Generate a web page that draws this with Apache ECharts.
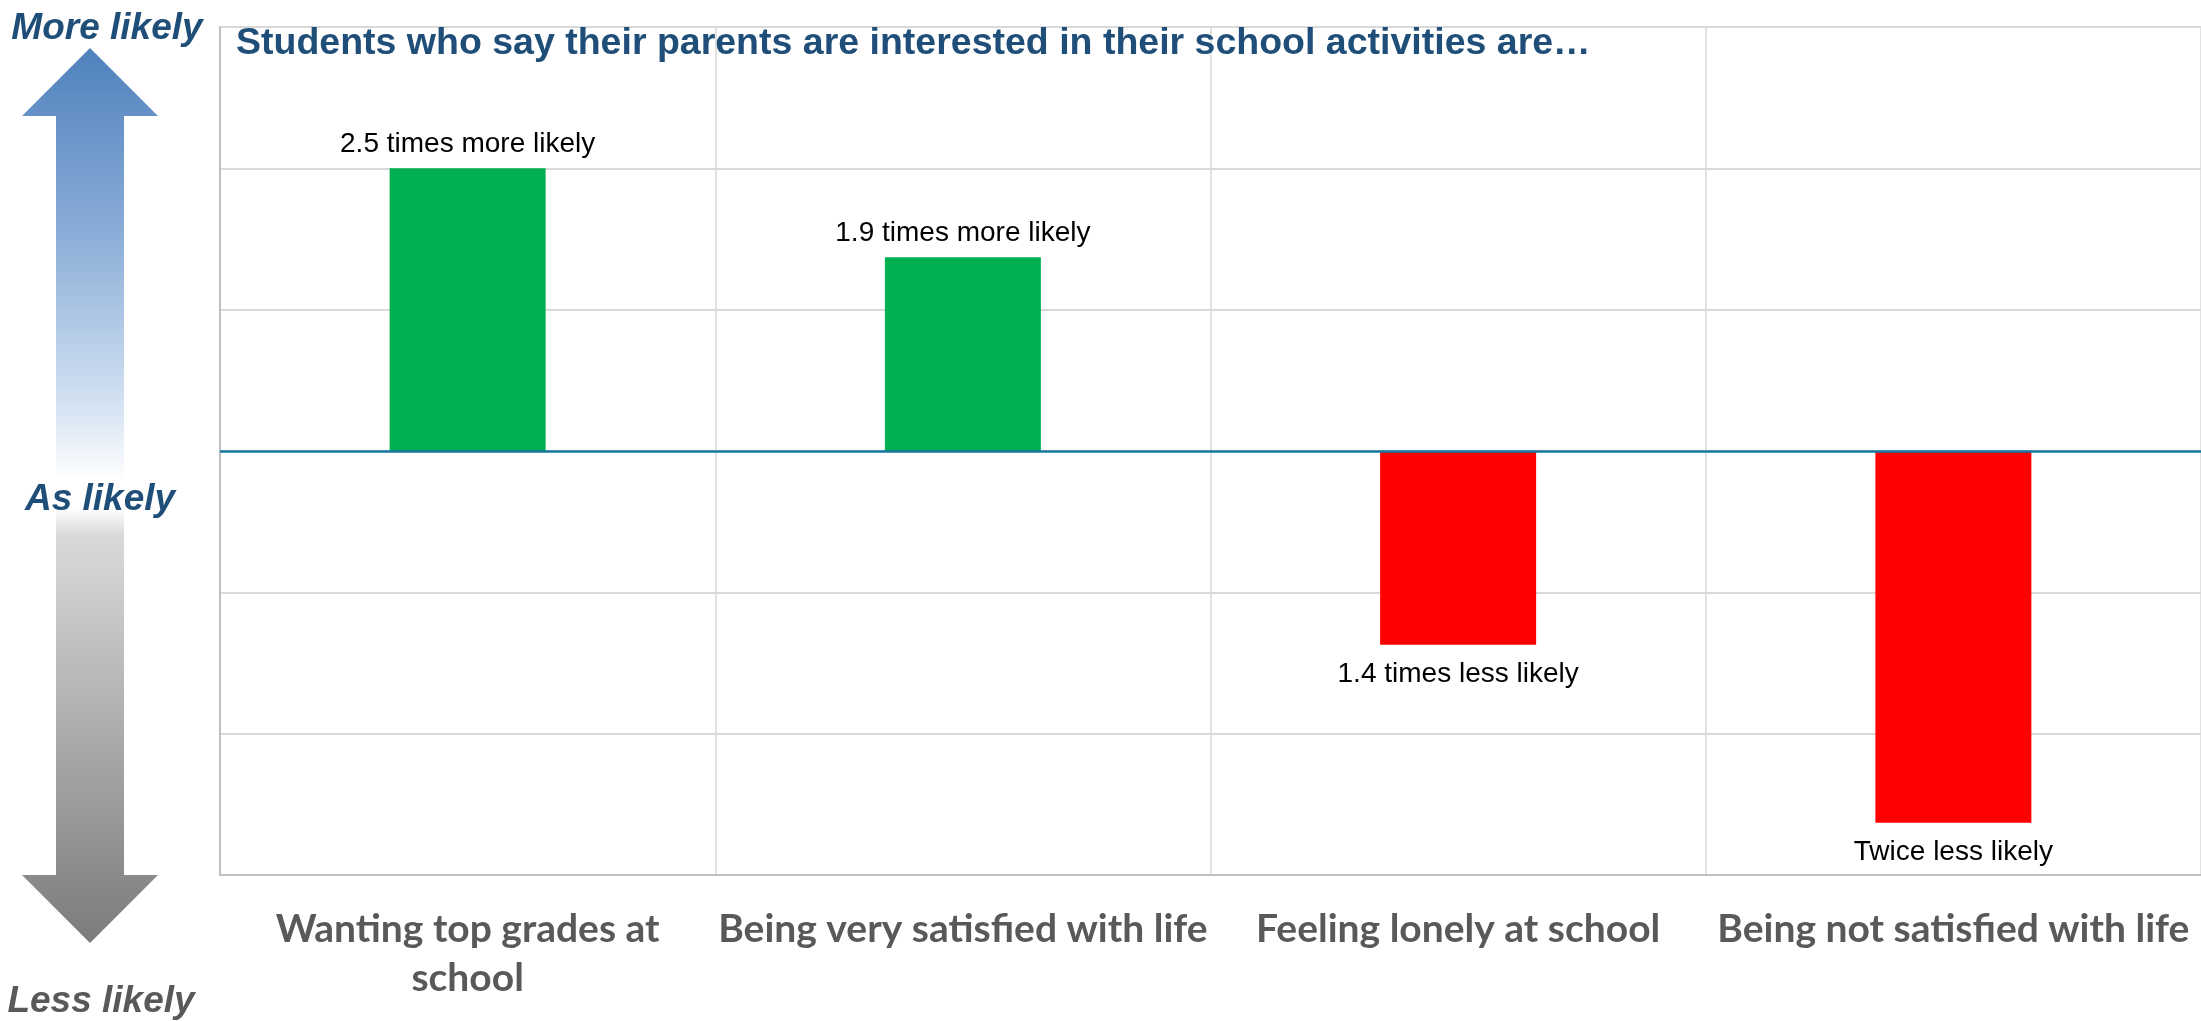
<!DOCTYPE html>
<html>
<head>
<meta charset="utf-8">
<script src="https://cdn.jsdelivr.net/npm/echarts@6/dist/echarts.min.js"></script>
<style>
html,body{margin:0;padding:0;background:#fff;}
#chart{width:2201px;height:1021px;}
</style>
</head>
<body>
<div id="chart"></div>
<script>
// ---- data ----
const categories = ['Wanting top grades at\nschool', 'Being very satisfied with life', 'Feeling lonely at school', 'Being not satisfied with life'];
const values = [2.0, 1.37, -1.37, -2.63];
const valueLabels = ['2.5 times more likely', '1.9 times more likely', '1.4 times less likely', 'Twice less likely'];
const titleText = 'Students who say their parents are interested in their school activities are\u2026';
const sideLabels = ['More likely', 'As likely', 'Less likely'];
const yMin = -3, yMax = 3, yInterval = 1;

const chart = echarts.init(document.getElementById('chart'), null, {renderer: 'canvas'});

const seriesData = values.map((v, i) => ({
  value: v,
  itemStyle: {color: v >= 0 ? '#00b050' : '#ff0000'},
  label: {position: v >= 0 ? 'top' : 'bottom', distance: v >= 0 ? 10 : 16, formatter: valueLabels[i]}
}));

const upGrad = new echarts.graphic.LinearGradient(0, 0, 0, 1, [
  {offset: 0, color: '#4f81bd'},
  {offset: 0.45, color: '#8eb0d9'},
  {offset: 0.82, color: '#d3e1f2'},
  {offset: 1, color: '#ffffff'}
]);
const downGrad = new echarts.graphic.LinearGradient(0, 0, 0, 1, [
  {offset: 0, color: '#ffffff'},
  {offset: 0.06, color: '#dadada'},
  {offset: 1, color: '#7b7b7b'}
]);

const option = {
  animation: false,
  backgroundColor: '#ffffff',
  title: {
    text: titleText,
    left: 236, top: 25, padding: 0,
    textStyle: {fontFamily: 'Liberation Sans', fontWeight: 'bold', fontSize: 37.5, color: '#1f4e79'}
  },
  grid: {left: 220, right: 0, top: 27, bottom: 146, containLabel: false},
  xAxis: {
    type: 'category',
    data: categories,
    axisLine: {onZero: false, lineStyle: {color: '#bfbfbf', width: 2}},
    axisTick: {show: false},
    splitLine: {show: true, lineStyle: {color: '#d9d9d9', width: 1.5}},
    axisLabel: {
      interval: 0, margin: 30,
      fontFamily: 'Lato', fontWeight: 'bold', fontSize: 39, lineHeight: 49,
      color: '#595959', align: 'center'
    }
  },
  yAxis: {
    type: 'value', min: yMin, max: yMax, interval: yInterval,
    axisLine: {show: true, lineStyle: {color: '#bfbfbf', width: 2}},
    axisTick: {show: false},
    axisLabel: {show: false},
    splitLine: {show: true, lineStyle: {color: '#d9d9d9', width: 2}}
  },
  series: [{
    type: 'bar',
    data: seriesData,
    barWidth: '31.5%',
    label: {
      show: true,
      fontFamily: 'Liberation Sans', fontSize: 28, color: '#000000'
    },
    markLine: {
      silent: true, symbol: 'none', label: {show: false},
      lineStyle: {color: '#1478a0', width: 2.5, type: 'solid'},
      data: [{yAxis: 0}]
    }
  }],
  graphic: [
    {type: 'polygon', z: 1, shape: {points: [[90,48],[158,116],[124,116],[124,480],[56,480],[56,116],[22,116]]}, style: {fill: upGrad}},
    {type: 'polygon', z: 1, shape: {points: [[56,508],[124,508],[124,875],[158,875],[90,943],[22,875],[56,875]]}, style: {fill: downGrad}},
    {type: 'text', z: 10, x: 107, y: 29, style: {text: sideLabels[0], fill: '#1f4e79', font: 'italic bold 37px "Liberation Sans"', align: 'center', verticalAlign: 'middle'}},
    {type: 'text', z: 10, x: 100, y: 500, style: {text: sideLabels[1], fill: '#1f4e79', font: 'italic bold 37px "Liberation Sans"', align: 'center', verticalAlign: 'middle'}},
    {type: 'text', z: 10, x: 101, y: 1002, style: {text: sideLabels[2], fill: '#595959', font: 'italic bold 37px "Liberation Sans"', align: 'center', verticalAlign: 'middle'}}
  ]
};
chart.setOption(option);
</script>
</body>
</html>
